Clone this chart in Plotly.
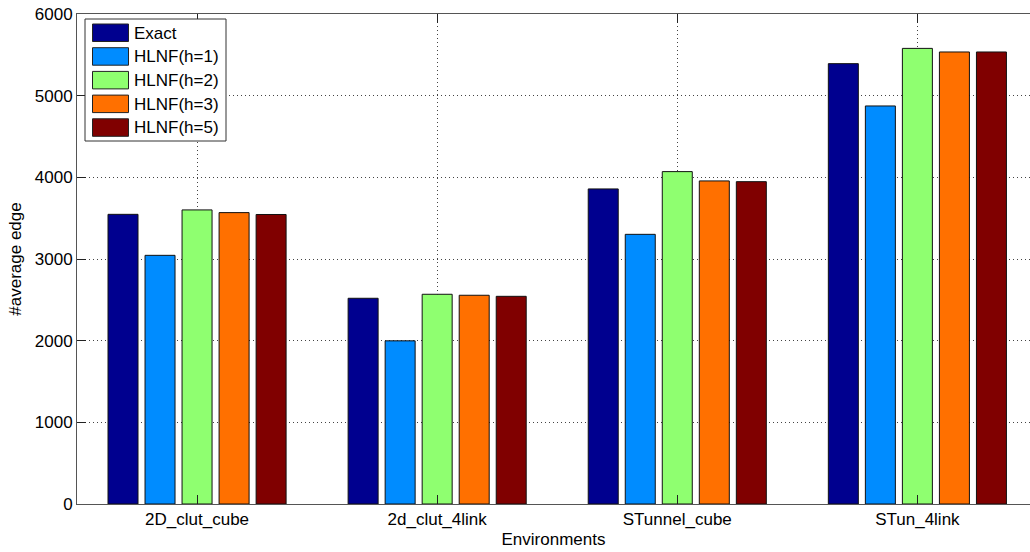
import plotly.graph_objects as go

# Environments and average edge counts per method
environments = ["2D_clut_cube", "2d_clut_4link", "STunnel_cube", "STun_4link"]
methods = ["Exact", "HLNF(h=1)", "HLNF(h=2)", "HLNF(h=3)", "HLNF(h=5)"]
exact = [3547, 2519, 3858, 5392]
hlnf_h1 = [3045, 1998, 3302, 4874]
hlnf_h2 = [3601, 2568, 4070, 5579]
hlnf_h3 = [3568, 2556, 3956, 5535]
hlnf_h5 = [3545, 2543, 3947, 5535]
y_ticks = [0, 1000, 2000, 3000, 4000, 5000, 6000]

series = [exact, hlnf_h1, hlnf_h2, hlnf_h3, hlnf_h5]
colors = ["#00008F", "#008CFF", "#8FFF70", "#FF7000", "#800000"]

FONT = "Liberation Sans, Arial, sans-serif"
W, H = 1030, 552
L, R, T, B = 77, 0, 14, 48
pw, ph = W - L - R, H - T - B

fig = go.Figure()
for name, vals, col in zip(methods, series, colors):
    fig.add_trace(go.Bar(
        x=environments, y=vals, name=name,
        marker=dict(color=col, line=dict(color="#111111", width=1)),
        showlegend=False,
    ))


def px_x(v):
    return (v - L) / pw


def px_y(v):
    return (H - B - v) / ph


# Legend box with large colour patches
shapes = [dict(type="rect", xref="paper", yref="paper",
               x0=px_x(85), x1=px_x(226), y0=px_y(141), y1=px_y(19),
               line=dict(color="#333333", width=1), fillcolor="white", layer="above")]
annotations = []
for i, (name, col) in enumerate(zip(methods, colors)):
    top = 24 + i * 23.7
    shapes.append(dict(type="rect", xref="paper", yref="paper",
                       x0=px_x(92.5), x1=px_x(128.5), y0=px_y(top + 17.5), y1=px_y(top),
                       line=dict(color="#222222", width=1), fillcolor=col, layer="above"))
    annotations.append(dict(xref="paper", yref="paper", x=px_x(131.5), y=px_y(top + 9),
                            text=name, showarrow=False, xanchor="left", yanchor="middle",
                            font=dict(family=FONT, size=17, color="black")))

fig.update_layout(
    width=W, height=H,
    margin=dict(l=L, r=R, t=T, b=B, autoexpand=False),
    paper_bgcolor="white", plot_bgcolor="white",
    barmode="group", bargap=0.229, bargroupgap=0.19,
    font=dict(family=FONT, size=17, color="black"),
    shapes=shapes, annotations=annotations,
)
grid_style = dict(showgrid=True, gridcolor="#444444", griddash="1px,3px", gridwidth=1)
fig.update_xaxes(
    range=[-0.5, 3.469], type="category",
    showline=True, linecolor="#555555", linewidth=1, mirror="ticks",
    ticks="inside", ticklen=9, tickcolor="#222222",
    tickfont=dict(family=FONT, size=17, color="black"),
    title=dict(text="Environments", font=dict(family=FONT, size=17, color="black"), standoff=4),
    automargin=False, **grid_style,
)
fig.update_yaxes(
    range=[0, 6000], tickvals=y_ticks,
    showline=True, linecolor="#555555", linewidth=1, mirror=False,
    ticks="inside", ticklen=9, tickcolor="#222222",
    zeroline=False,
    tickfont=dict(family=FONT, size=17, color="black"),
    title=dict(text="#average edge", font=dict(family=FONT, size=17, color="black"), standoff=8),
    automargin=False, **grid_style,
)

fig.write_html("out.html")
